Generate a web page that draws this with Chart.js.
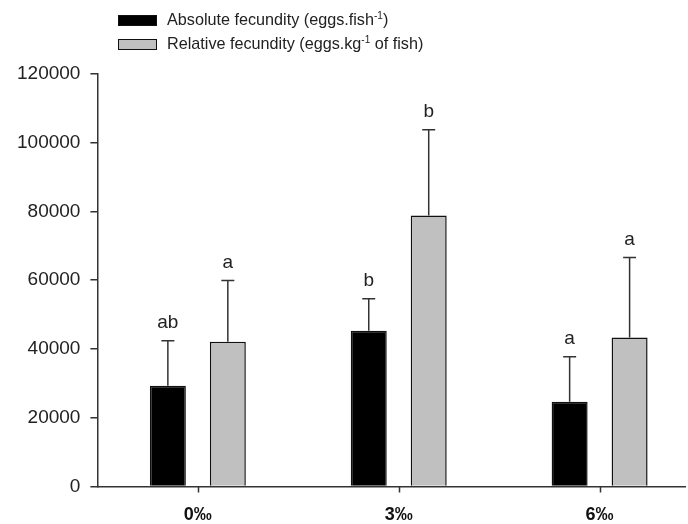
<!DOCTYPE html>
<html>
<head>
<meta charset="utf-8">
<script src="https://cdn.jsdelivr.net/npm/chart.js@4"></script>
<style>
  html, body { margin: 0; padding: 0; background: #fff; }
  #wrap { position: relative; width: 688px; height: 524px; }
  canvas { position: absolute; left: 0; top: 0; }
  #legend { position: absolute; left: 118px; top: 8px; font-family: Arial, "Liberation Sans", sans-serif; font-size: 16.2px; color: #222; }
  .item { display: flex; align-items: center; height: 24px; }
  .box { width: 39px; height: 11px; border: 1.5px solid #111; margin-right: 10px; box-sizing: border-box; }
  sup { font-size: 10px; }
</style>
</head>
<body>
<div id="wrap">
  <canvas id="c" width="688" height="524"></canvas>
  <div id="legend"></div>
</div>
<script>
const categories = ['0‰', '3‰', '6‰'];
const seriesNames = ['Absolute fecundity (eggs.fish<sup>-1</sup>)', 'Relative fecundity (eggs.kg<sup>-1</sup> of fish)'];
const absoluteMean = [29300, 45300, 24600];
const absoluteErr = [13100, 9300, 13100];
const relativeMean = [42100, 78800, 43300];
const relativeErr = [17800, 25000, 23300];
const absoluteLetters = ['ab', 'b', 'a'];
const relativeLetters = ['a', 'b', 'a'];
const yTicks = [0, 20000, 40000, 60000, 80000, 100000, 120000];

const colors = ['#000000', '#c0c0c0'];

const legend = document.getElementById('legend');
seriesNames.forEach((n, i) => {
  const d = document.createElement('div');
  d.className = 'item';
  d.innerHTML = '<span class="box" style="background:' + colors[i] + '"></span><span>' + n + '</span>';
  legend.appendChild(d);
});

const errors = [absoluteErr, relativeErr];
const letters = [absoluteLetters, relativeLetters];

const errorPlugin = {
  id: 'errbars',
  afterDatasetsDraw(chart) {
    const ctx = chart.ctx;
    const y = chart.scales.y;
    const x = chart.scales.x;
    ctx.save();
    ctx.strokeStyle = '#333';
    ctx.lineWidth = 1.5;
    // x-axis tick marks at category positions
    ctx.beginPath();
    x.ticks.forEach((t, i) => {
      const px = Math.round(x.getPixelForTick(i)) + 0.5;
      ctx.moveTo(px, chart.chartArea.bottom);
      ctx.lineTo(px, chart.chartArea.bottom + 6);
    });
    ctx.stroke();
    ctx.fillStyle = '#222';
    ctx.font = '19px Arial, "Liberation Sans", sans-serif';
    ctx.textAlign = 'center';
    ctx.textBaseline = 'alphabetic';
    chart.data.datasets.forEach((ds, di) => {
      const meta = chart.getDatasetMeta(di);
      meta.data.forEach((bar, i) => {
        const v = ds.data[i].y;
        const top = y.getPixelForValue(v + errors[di][i]);
        const base = y.getPixelForValue(v);
        ctx.beginPath();
        ctx.moveTo(bar.x, base);
        ctx.lineTo(bar.x, top);
        ctx.moveTo(bar.x - 6.5, top);
        ctx.lineTo(bar.x + 6.5, top);
        ctx.stroke();
        ctx.fillText(letters[di][i], bar.x, top - 13);
      });
    });
    ctx.restore();
  }
};

new Chart(document.getElementById('c'), {
  type: 'bar',
  data: {
    datasets: [
      { label: 'Absolute', data: absoluteMean.map((v, i) => ({ x: i, y: v })), backgroundColor: colors[0], borderColor: '#111', borderWidth: 1.5, categoryPercentage: 0.597, barPercentage: 0.6 },
      { label: 'Relative', data: relativeMean.map((v, i) => ({ x: i, y: v })), backgroundColor: colors[1], borderColor: '#111', borderWidth: 1.5, categoryPercentage: 0.597, barPercentage: 0.6 }
    ]
  },
  options: {
    responsive: false,
    animation: false,
    devicePixelRatio: 1,
    layout: { padding: { top: 74, right: 2, left: 7, bottom: -14 } },
    plugins: { legend: { display: false }, tooltip: { enabled: false } },
    scales: {
      x: {
        type: 'linear',
        min: -0.5,
        max: 2.43,
        offset: false,
        afterBuildTicks(scale) { scale.ticks = categories.map((c, i) => ({ value: i })); },
        ticks: {
          callback: (v) => categories[v],
          color: '#111',
          font: { family: 'Arial, "Liberation Sans", sans-serif', size: 18, weight: 'bold' },
          padding: 12,
          maxRotation: 0
        },
        grid: { display: true, drawOnChartArea: false, offset: false, drawTicks: true, tickLength: 6, color: 'rgba(0,0,0,0)', lineWidth: 0 },
        border: { color: '#333', width: 1.5 }
      },
      y: {
        min: 0,
        max: 120000,
        afterBuildTicks(scale) { scale.ticks = yTicks.map(v => ({ value: v })); },
        ticks: {
          callback: (v) => String(v),
          color: '#222',
          font: { family: 'Arial, "Liberation Sans", sans-serif', size: 19 },
          padding: 10
        },
        grid: { drawOnChartArea: false, tickLength: 7, color: '#333', lineWidth: 1.5 },
        border: { color: '#333', width: 1.5 }
      }
    }
  },
  plugins: [errorPlugin]
});
</script>
</body>
</html>
